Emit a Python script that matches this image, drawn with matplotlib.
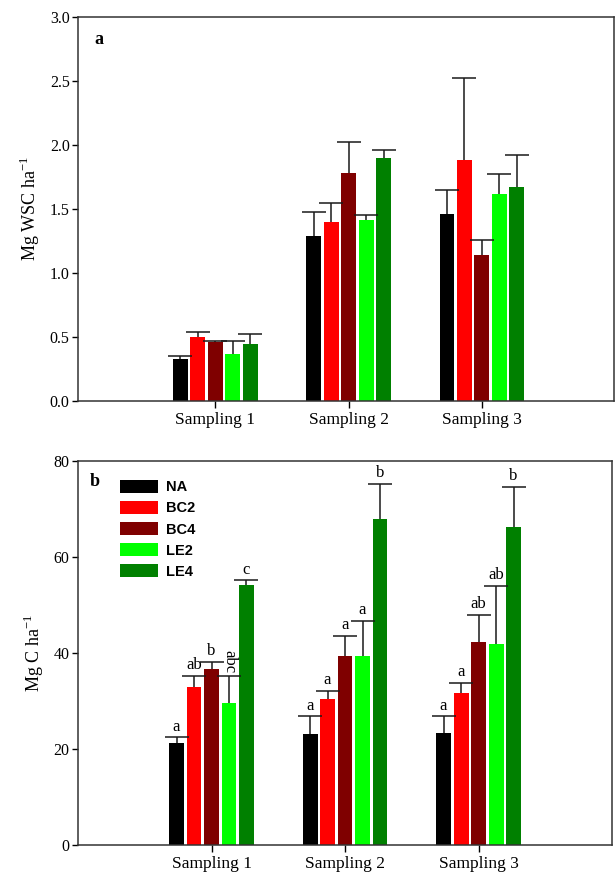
import matplotlib as mpl
import matplotlib.pyplot as plt
import numpy as np

mpl.rcParams['font.family'] = ['Liberation Serif', 'DejaVu Serif']

samplings = ['Sampling 1', 'Sampling 2', 'Sampling 3']
treatments = ['NA', 'BC2', 'BC4', 'LE2', 'LE4']
colors = ['#000000', '#ff0000', '#7f0000', '#00ff00', '#008000']

# water soluble carbohydrates, Mg WSC/ha (rows = treatment)
wsc = [[0.33, 1.29, 1.46],
       [0.50, 1.40, 1.885],
       [0.46, 1.78, 1.14],
       [0.37, 1.41, 1.62],
       [0.445, 1.895, 1.67]]
wsc_err = [[0.02, 0.185, 0.185],
           [0.04, 0.15, 0.64],
           [0.007, 0.24, 0.115],
           [0.10, 0.04, 0.15],
           [0.08, 0.065, 0.25]]

# carbon, Mg C/ha
carbon = [[21.3, 23.1, 23.3],
          [33.0, 30.4, 31.7],
          [36.6, 39.3, 42.2],
          [29.5, 39.3, 41.9],
          [54.1, 68.0, 66.3]]
carbon_err = [[1.1, 3.7, 3.5],
              [2.2, 1.7, 2.1],
              [1.5, 4.3, 5.7],
              [5.7, 7.4, 12.1],
              [1.0, 7.2, 8.3]]
letters = [['a', 'a', 'a'],
           ['ab', 'a', 'a'],
           ['b', 'a', 'ab'],
           ['abc', 'a', 'ab'],
           ['c', 'b', 'b']]

dpi = 100
fig = plt.figure(dpi=dpi, figsize=(616 / dpi, 877 / dpi))
ax1 = fig.add_axes([0.1266, 0.5428, 0.870, 0.4379])
ax2 = fig.add_axes([0.1266, 0.0365, 0.867, 0.4379])

x = np.arange(1, 4)
step = 0.131
width = 0.112


def draw_bars(ax, vals, errs):
    for i in range(len(treatments)):
        pos = x + (i - 2) * step
        ax.bar(pos, vals[i], width, color=colors[i], label=treatments[i],
               zorder=2)
        eb = ax.errorbar(pos, vals[i], yerr=[np.zeros(3), errs[i]],
                         fmt='none', ecolor='#1a1a1a', elinewidth=1.1,
                         capsize=8.5, capthick=1.1, zorder=3)
        # only the upper whisker gets a cap
        eb[1][0].set_visible(False)
    ax.set_xticks(x)
    ax.set_xticklabels(samplings, fontsize=12.5)
    ax.tick_params(axis='x', direction='out', length=5, width=1, pad=3)
    ax.tick_params(axis='y', direction='out', length=4, width=1,
                   labelsize=11.5, pad=2)
    for sp in ax.spines.values():
        sp.set_linewidth(1.1)
        sp.set_color('#333333')


# panel a
draw_bars(ax1, wsc, wsc_err)
ax1.set_xlim(-0.03, 3.99)
ax1.set_ylim(0, 3.0)
ax1.set_yticks(np.arange(0, 3.01, 0.5))
ax1.set_yticklabels(['%.1f' % v for v in np.arange(0, 3.01, 0.5)])
ax1.set_ylabel('Mg WSC ha$^{\\mathregular{-1}}$', fontsize=13, labelpad=5.5)
ax1.text(0.03, 0.93, 'a', transform=ax1.transAxes, fontsize=13,
         fontweight='bold')

# panel b
draw_bars(ax2, carbon, carbon_err)
ax2.set_xlim(0, 4)
ax2.set_ylim(0, 80)
ax2.set_yticks([0, 20, 40, 60, 80])
ax2.set_ylabel('Mg C ha$^{\\mathregular{-1}}$', fontsize=13, labelpad=5.5)
ax2.text(0.022, 0.935, 'b', transform=ax2.transAxes, fontsize=13,
         fontweight='bold')

for i in range(len(treatments)):
    for j in range(3):
        lab = letters[i][j]
        top = carbon[i][j] + carbon_err[i][j]
        if len(lab) > 2:
            ax2.annotate(lab, (x[j] + (i - 2) * step, top), xytext=(0, 2),
                         textcoords='offset points', ha='center',
                         va='bottom', rotation=-90, fontsize=12)
        else:
            ax2.annotate(lab, (x[j] + (i - 2) * step, top), xytext=(0, 2),
                         textcoords='offset points', ha='center',
                         va='bottom', fontsize=12)

leg = ax2.legend(loc='upper left', bbox_to_anchor=(0.055, 0.985),
                 frameon=False, handlelength=2.6, handleheight=1.0,
                 labelspacing=0.45, handletextpad=0.5,
                 prop={'family': 'Liberation Sans', 'weight': 'bold',
                       'size': 10.5})

fig.savefig('out.png')
